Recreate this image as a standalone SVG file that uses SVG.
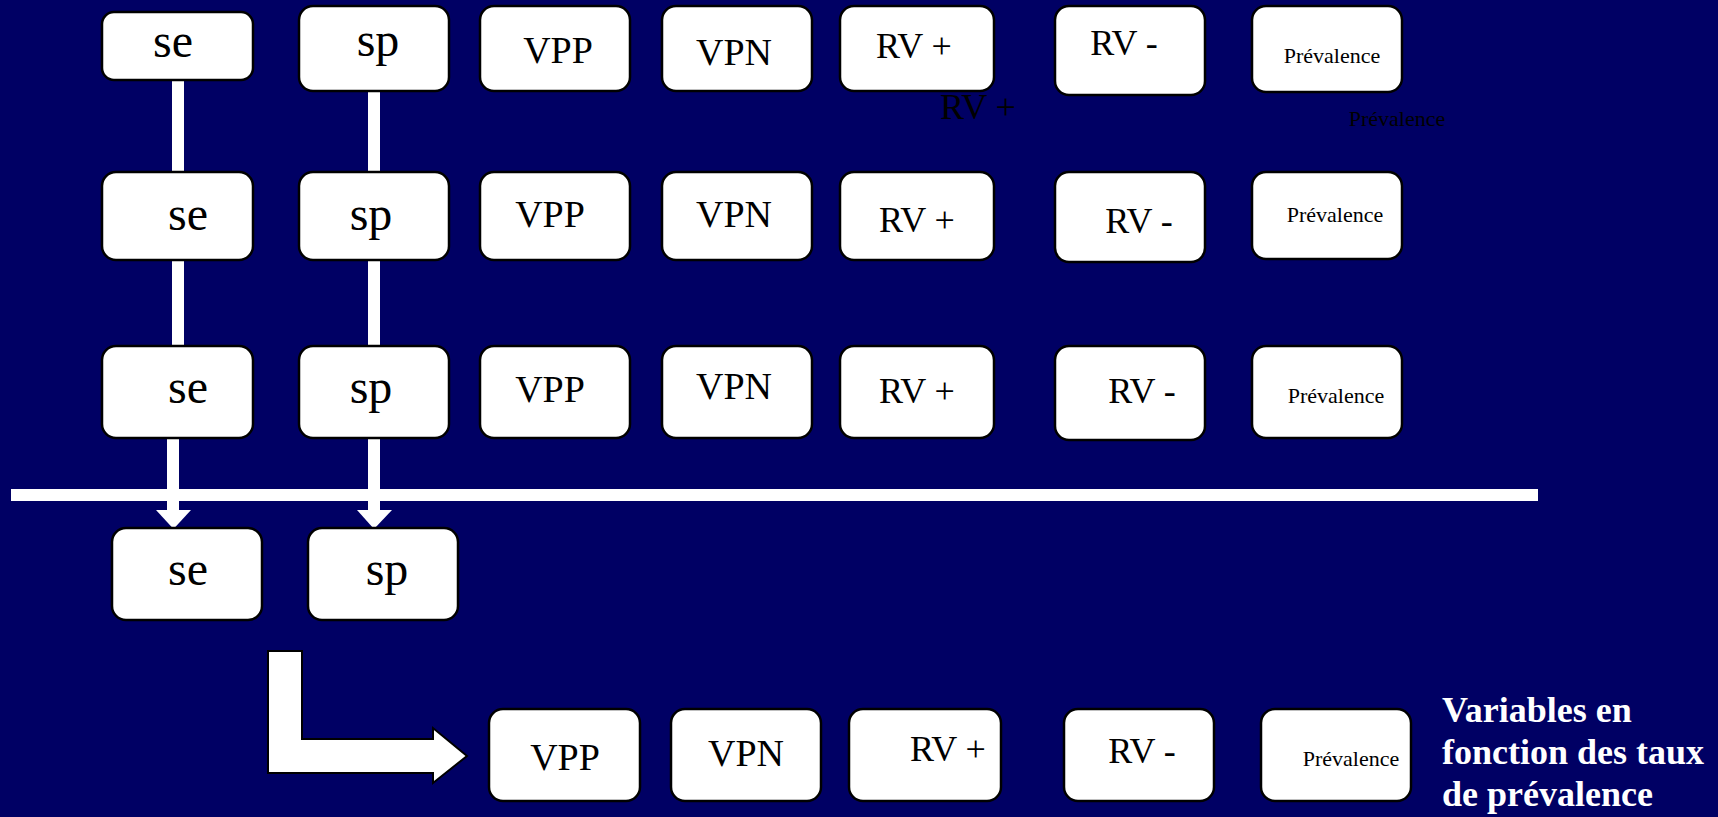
<svg xmlns="http://www.w3.org/2000/svg" width="1718" height="817" viewBox="0 0 1718 817">
<style>
.bx{fill:#fff;stroke:#000;stroke-width:2.5}
.t{font-family:"Liberation Serif","Times New Roman",serif;fill:#000;text-anchor:middle}
.s{font-size:48px}
.v{font-size:38px}
.r{font-size:36px}
.p{font-size:22px}
.w{fill:#fff}
.cap{font-family:"Liberation Serif","Times New Roman",serif;fill:#fff;font-size:36px;font-weight:bold}
</style>
<rect x="0" y="0" width="1718" height="817" fill="#000064"/>
<g id="connectors">
<rect class="w" x="172" y="79" width="12" height="94"/>
<rect class="w" x="368" y="90" width="12" height="83"/>
<rect class="w" x="172" y="259" width="12" height="88"/>
<rect class="w" x="368" y="259" width="12" height="88"/>
<rect class="w" x="167" y="437" width="12" height="75"/>
<polygon class="w" points="156,510 191,510 173.5,529"/>
<rect class="w" x="368" y="437" width="12" height="75"/>
<polygon class="w" points="357,510 392,510 374,529"/>
<rect class="w" x="11" y="489" width="1527" height="12"/>
<polygon fill="#fff" stroke="#000" stroke-width="2" points="268,651 302,651 302,739 433,739 433,728 467,756 433,783 433,773 268,773"/>
</g>
<g id="r1-se"><rect class="bx" x="102" y="12" width="151" height="68" rx="12"/><text class="t s" x="173" y="57">se</text></g>
<g id="r1-sp"><rect class="bx" x="299" y="6" width="150" height="85" rx="14"/><text class="t s" x="378" y="56">sp</text></g>
<g id="r1-vpp"><rect class="bx" x="480" y="6" width="150" height="85" rx="14"/><text class="t v" x="558" y="63">VPP</text></g>
<g id="r1-vpn"><rect class="bx" x="662" y="6" width="150" height="85" rx="14"/><text class="t v" x="734" y="65">VPN</text></g>
<g id="r1-rvp"><rect class="bx" x="840" y="6" width="154" height="85" rx="14"/><text class="t r" x="914" y="58">RV +</text></g>
<g id="r1-rvm"><rect class="bx" x="1055" y="6" width="150" height="89" rx="14"/><text class="t r" x="1124" y="55">RV -</text></g>
<g id="r1-prev"><rect class="bx" x="1252" y="6" width="150" height="86" rx="14"/><text class="t p" x="1332" y="63">Prévalence</text></g>
<text class="t r" x="978" y="119">RV +</text>
<text class="t p" x="1397" y="126">Prévalence</text>
<g id="r2-se"><rect class="bx" x="102" y="172" width="151" height="88" rx="14"/><text class="t s" x="188" y="230">se</text></g>
<g id="r2-sp"><rect class="bx" x="299" y="172" width="150" height="88" rx="14"/><text class="t s" x="371" y="230">sp</text></g>
<g id="r2-vpp"><rect class="bx" x="480" y="172" width="150" height="88" rx="14"/><text class="t v" x="550" y="227">VPP</text></g>
<g id="r2-vpn"><rect class="bx" x="662" y="172" width="150" height="88" rx="14"/><text class="t v" x="734" y="227">VPN</text></g>
<g id="r2-rvp"><rect class="bx" x="840" y="172" width="154" height="88" rx="14"/><text class="t r" x="917" y="232">RV +</text></g>
<g id="r2-rvm"><rect class="bx" x="1055" y="172" width="150" height="90" rx="14"/><text class="t r" x="1139" y="233">RV -</text></g>
<g id="r2-prev"><rect class="bx" x="1252" y="172" width="150" height="87" rx="14"/><text class="t p" x="1335" y="222">Prévalence</text></g>
<g id="r3-se"><rect class="bx" x="102" y="346" width="151" height="92" rx="14"/><text class="t s" x="188" y="403">se</text></g>
<g id="r3-sp"><rect class="bx" x="299" y="346" width="150" height="92" rx="14"/><text class="t s" x="371" y="403">sp</text></g>
<g id="r3-vpp"><rect class="bx" x="480" y="346" width="150" height="92" rx="14"/><text class="t v" x="550" y="402">VPP</text></g>
<g id="r3-vpn"><rect class="bx" x="662" y="346" width="150" height="92" rx="14"/><text class="t v" x="734" y="399">VPN</text></g>
<g id="r3-rvp"><rect class="bx" x="840" y="346" width="154" height="92" rx="14"/><text class="t r" x="917" y="403">RV +</text></g>
<g id="r3-rvm"><rect class="bx" x="1055" y="346" width="150" height="94" rx="14"/><text class="t r" x="1142" y="403">RV -</text></g>
<g id="r3-prev"><rect class="bx" x="1252" y="346" width="150" height="92" rx="14"/><text class="t p" x="1336" y="403">Prévalence</text></g>
<g id="r4-se"><rect class="bx" x="112" y="528" width="150" height="92" rx="14"/><text class="t s" x="188" y="585">se</text></g>
<g id="r4-sp"><rect class="bx" x="308" y="528" width="150" height="92" rx="14"/><text class="t s" x="387" y="585">sp</text></g>
<g id="b-vpp"><rect class="bx" x="489" y="709" width="151" height="92" rx="14"/><text class="t v" x="565" y="770">VPP</text></g>
<g id="b-vpn"><rect class="bx" x="671" y="709" width="150" height="92" rx="14"/><text class="t v" x="746" y="766">VPN</text></g>
<g id="b-rvp"><rect class="bx" x="849" y="709" width="152" height="92" rx="14"/><text class="t r" x="948" y="761">RV +</text></g>
<g id="b-rvm"><rect class="bx" x="1064" y="709" width="150" height="92" rx="14"/><text class="t r" x="1142" y="763">RV -</text></g>
<g id="b-prev"><rect class="bx" x="1261" y="709" width="150" height="92" rx="14"/><text class="t p" x="1351" y="766">Prévalence</text></g>
<g id="caption">
<text class="cap" x="1442" y="722">Variables en</text>
<text class="cap" x="1442" y="764">fonction des taux</text>
<text class="cap" x="1442" y="806">de prévalence</text>
</g>
</svg>
